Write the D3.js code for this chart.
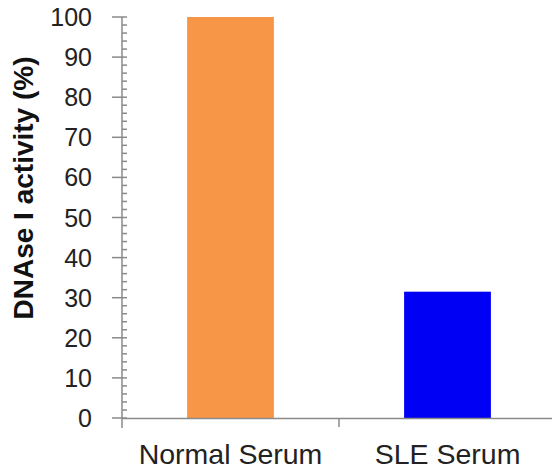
<!DOCTYPE html>
<html>
<head>
<meta charset="utf-8">
<script src="https://cdn.jsdelivr.net/npm/d3@7"></script>
<style>
  body { margin: 0; background: #fff; }
</style>
</head>
<body>
<div id="chart"></div>
<script>
var categories = ["Normal Serum", "SLE Serum"];
var activity = [100, 31.5];
var barColors = ["#f79646", "#0000f5"];
var yTicks = [0, 10, 20, 30, 40, 50, 60, 70, 80, 90, 100];

var W = 552, H = 473;
var margin = { left: 122, right: -4, top: 17, bottom: 55 };

var svg = d3.select("#chart").append("svg")
    .attr("width", W)
    .attr("height", H);

var x = d3.scaleBand()
    .domain(categories)
    .range([margin.left, W - margin.right])
    .paddingInner(0.6)
    .paddingOuter(0.3);

var y = d3.scaleLinear()
    .domain([0, 100])
    .range([H - margin.bottom, margin.top]);

// bars
svg.selectAll("rect.bar")
    .data(categories)
    .enter().append("rect")
    .attr("class", "bar")
    .attr("x", function (d) { return x(d); })
    .attr("y", function (d, i) { return y(activity[i]); })
    .attr("width", x.bandwidth())
    .attr("height", function (d, i) { return y(0) - y(activity[i]); })
    .style("fill", function (d, i) { return barColors[i]; });

// y axis - minor ticks on the right, major ticks crossing
var minor = d3.range(0, 101, 2).filter(function (v) { return v % 10 !== 0; });
var axisCol = "#8a8a8a";
var yAxis = svg.append("g");
yAxis.append("line")
    .attr("x1", margin.left).attr("x2", margin.left)
    .attr("y1", y(100)).attr("y2", y(0) + 10)
    .style("stroke", axisCol).style("stroke-width", 1.5);
yAxis.selectAll("line.minor")
    .data(minor).enter().append("line")
    .attr("class", "minor")
    .attr("x1", margin.left).attr("x2", margin.left + 5)
    .attr("y1", function (d) { return y(d); })
    .attr("y2", function (d) { return y(d); })
    .style("stroke", axisCol).style("stroke-width", 1.5);
yAxis.selectAll("line.major")
    .data(yTicks).enter().append("line")
    .attr("class", "major")
    .attr("x1", margin.left - 10).attr("x2", margin.left + 5)
    .attr("y1", function (d) { return y(d); })
    .attr("y2", function (d) { return y(d); })
    .style("stroke", axisCol).style("stroke-width", 1.5);
yAxis.selectAll("text")
    .data(yTicks).enter().append("text")
    .attr("x", margin.left - 30)
    .attr("y", function (d) { return y(d); })
    .attr("dy", "0.36em")
    .attr("text-anchor", "end")
    .attr("font-family", "Liberation Sans, Arial, sans-serif")
    .attr("font-size", "25px")
    .style("fill", "#222")
    .text(function (d) { return d; });

// x axis
var xAxis = svg.append("g")
    .attr("transform", "translate(0," + y(0) + ")")
    .call(d3.axisBottom(x).tickSize(0));
xAxis.select(".domain").style("stroke", axisCol).style("stroke-width", 1.5);
xAxis.selectAll("text")
    .attr("y", 46)
    .attr("dy", 0)
    .attr("font-family", "Liberation Sans, Arial, sans-serif")
    .attr("font-size", "28.5px")
    .style("fill", "#222");
var bounds = [margin.left + x.step() * 1];
xAxis.selectAll("line.sep")
    .data(bounds).enter().append("line")
    .attr("class", "sep")
    .attr("x1", function (d) { return d; }).attr("x2", function (d) { return d; })
    .attr("y1", 0).attr("y2", 9)
    .style("stroke", axisCol).style("stroke-width", 1.5);

// y title
svg.append("text")
    .attr("transform", "translate(33,188) rotate(-90)")
    .attr("text-anchor", "middle")
    .attr("font-family", "Liberation Sans, Arial, sans-serif")
    .attr("font-weight", "bold")
    .attr("font-size", "28px")
    .style("fill", "#111")
    .text("DNAse I activity (%)");
</script>
</body>
</html>
